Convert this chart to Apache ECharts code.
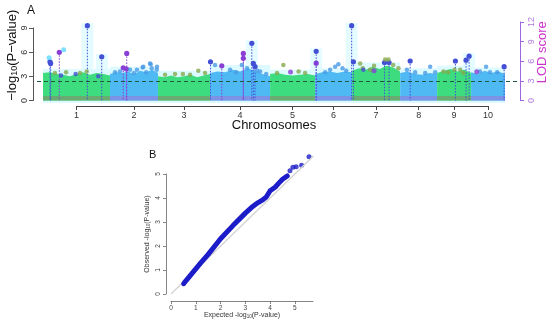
<!DOCTYPE html>
<html><head><meta charset="utf-8">
<script src="https://cdn.jsdelivr.net/npm/echarts@6/dist/echarts.min.js"></script>
<style>html,body{margin:0;padding:0;background:#fff}#c{width:550px;height:323px}</style>
</head><body><div id="c"></div><script>
// ---------- DATA ----------
const chromosomes = ['1','2','3','4','5','6','7','8','9','10'];
const chrLengthMb = [308,221,239,276,207,170,221,170,156,156];
const logPTicks = [0,3,6,9];
const lodTicks = [0,3,6,9,12];
const lodThreshold = 3;
// upper envelope of the dense marker cloud (-log10 P), sampled evenly along each chromosome
const cloudTop = [
  [3.4,3.5,3.3,3.2,3.0,3.3,3.5,3.2,3.4,3.3,3.1],
  [3.3,3.5,3.4,3.6,3.3,3.7,3.5,3.8,3.4],
  [3.0,2.9,3.1,2.9,3.0,3.2,2.9,3.1,3.3],
  [3.4,3.6,3.5,3.8,3.6,4.0,3.7,3.3,3.0],
  [3.3,3.4,3.2,3.1,3.2,3.3,3.1],
  [3.3,3.5,3.6,3.4,3.6,3.5],
  [3.7,4.0,3.8,4.2,3.9,4.3,4.1,3.6],
  [3.4,3.6,3.3,3.2,3.4,3.3],
  [3.4,3.7,3.9,3.6,3.8,3.4],
  [3.5,3.3,3.7,3.4,3.6,3.3]
];
// other markers above the cloud: [chromosome, position (Mb), -log10 P]
const otherSnps = [
  [1,55,3.4],[1,106,3.5],[1,170,3.4],[1,201,3.6],
  [2,23,3.5],[2,46,3.6],[2,92,3.8],[2,110,3.4],[2,124,3.8],[2,150,4.1],[2,153,4.2],[2,166,3.5],[2,184,4.6],[2,187,4.5],[2,192,4.0],[2,215,3.8],[2,216,4.2],
  [3,32,3.2],[3,78,3.3],[3,114,3.3],[3,147,3.2],[3,185,3.7],[3,216,3.4],
  [4,23,4.4],[4,92,3.8],[4,120,3.5],[4,146,4.4],[4,170,4.0],[4,217,3.7],[4,230,3.6],[4,258,3.3],
  [5,32,3.4],[5,61,4.4],[5,131,3.6],[5,161,3.4],
  [6,46,3.5],[6,69,3.8],[6,92,4.2],[6,107,4.5],[6,126,4.0],[6,143,3.7],
  [7,37,4.6],[7,49,4.0],[7,83,3.8],[7,101,4.3],[7,152,5.1],[7,167,5.1],[7,189,4.4],[7,213,4.0],
  [8,31,3.8],[8,69,3.5],[8,115,3.4],[8,138,4.2],[8,161,3.5],
  [9,29,3.6],[9,51,3.5],[9,80,3.8],[9,106,3.8],[9,120,3.4],
  [10,41,3.6],[10,69,4.2],[10,87,3.5],[10,120,3.5]
];
// significant markers drawn with a dotted drop line: [chromosome, position (Mb), -log10 P]
const peakSnps = [
  [1,32,4.8],[1,35,4.6],[1,204,9.28],[1,270,5.43],
  [4,2,4.8],[4,192,7.1],[4,199,4.6],[4,207,4.2],
  [6,5,6.1],[6,168,9.28],[7,6,4.8],[7,149,4.7],[7,170,4.7],
  [8,46,4.9],[9,84,4.9],[9,133,5.0],[9,147,5.5],[10,152,4.2]
];
// further highlighted markers without drop line
const highlightSnps = [[1,83,3.1],[1,150,3.3],[1,254,3.0],[7,52,3.8]];
const lightSnps = [[1,28,5.3],[1,95,6.3]];
// QTL (LOD score) with drop line: [chromosome, position (Mb), LOD]
const qtlPeaks = [[1,75,7.37],[2,77,7.2],[2,61,5.0],[2,76,4.8],[4,153,7.2],[4,153,6.45],[4,54,5.3],[6,5,5.7]];
const qtlPoints = [[5,94,4.35],[7,101,4.55],[10,26,4.4]];
// QQ plot: expected vs observed -log10 P
const qqExpected = [0.51,0.6,0.8,1.0,1.2,1.5,2.0,2.5,3.0,3.3,3.5,3.7,3.85,4.0,4.2,4.35,4.5,4.69];
const qqObserved = [0.43,0.55,0.8,1.05,1.3,1.65,2.3,2.85,3.37,3.65,3.8,3.92,4.05,4.3,4.45,4.62,4.78,4.92];
const qqTailExpected = [4.8,4.92,5.05,5.27,5.57];
const qqTailObserved = [5.14,5.28,5.3,5.36,5.72];
const qqTicks = [0,1,2,3,4,5];

// ---------- BUILD ----------
const chrStart = []; let acc = 0;
chrLengthMb.forEach(l => { chrStart.push(acc); acc += l; });
const totalMb = acc;
const chrCenter = chrLengthMb.map((l,i) => chrStart[i] + l/2);
const cum = (c, p) => chrStart[c-1] + p;

const PL = 43, PR = 505; // manhattan plot region (px)
const pxOf = v => PL + v / totalMb * (PR - PL);

const GREEN = '#3ddc7e', BLUE = '#4eb9f3';
const STRIP_G = '#6aab72', STRIP_B = '#7c92e4';
const OLIVE = '#86a94c', PBLUE = '#4a9be6', PEAK = '#4350d6', PURPLE = '#8a3fd4', LIGHT = '#5fd7ff';
const FONT = 'Liberation Sans';

function renderCloud(params, api) {
  const i = api.value(2);
  const start = api.value(0), end = api.value(1);
  const tops = cloudTop[i], n = tops.length;
  const pts = [api.coord([start, 0])];
  tops.forEach((t,k) => pts.push(api.coord([start + (end-start)*k/(n-1), t])));
  pts.push(api.coord([end, 0]));
  const even = i % 2 === 1;
  const b0 = api.coord([start, Math.max(...tops) + 0.4]);
  const b1 = api.coord([end, -0.31]);
  const s0 = api.coord([start, 0.55]), s1 = api.coord([end, 0]);
  return {type:'group', children:[
    {type:'rect', shape:{x:b0[0], y:b0[1], width:b1[0]-b0[0], height:b1[1]-b0[1]}, style:{fill:'#dcfaff'}},
    {type:'polygon', shape:{points:pts}, style:{fill: even ? BLUE : GREEN}},
    {type:'rect', shape:{x:s0[0], y:s0[1], width:s1[0]-s0[0], height:s1[1]-s0[1]}, style:{fill: even ? STRIP_B : STRIP_G}}
  ]};
}
function dropRenderer(color) {
  return function(params, api) {
    const top = api.coord([api.value(0), api.value(1)]);
    const bot = api.coord([api.value(0), 0]);
    return {type:'group', children:[
      {type:'line', shape:{x1:top[0], y1:top[1], x2:bot[0], y2:bot[1]}, style:{stroke:color, lineWidth:1, lineDash:[1.5,1.5]}},
      {type:'circle', shape:{cx:top[0], cy:top[1], r:2.6}, style:{fill:color}}
    ]};
  };
}
function haloRender(params, api) {
  const top = api.coord([api.value(0), api.value(1) + 0.35]);
  const bot = api.coord([api.value(0), -0.31]);
  return {type:'rect', shape:{x:top[0]-6, y:top[1], width:12, height:bot[1]-top[1]}, style:{fill:'rgba(210,249,255,0.6)'}};
}

const axisLabelStyle = {fontFamily: FONT, fontSize: 9, color: '#333'};
const c1 = chrCenter[0], c10 = chrCenter[chrCenter.length-1];
const hiddenX = g => ({gridIndex:g, type:'value', min:0, max:1, show:false, axisLine:{onZero:false}});
const G = o => Object.assign({outerBoundsMode:'none', containLabel:false}, o);

const option = {
  animation: false,
  backgroundColor: '#fff',
  textStyle: {fontFamily: FONT},
  title: [
    {text:'A', left: 22, top: 0, textStyle:{fontSize:12, fontWeight:'normal', color:'#111', fontFamily:FONT}},
    {text:'B', left: 144, top: 144, textStyle:{fontSize:11, fontWeight:'normal', color:'#111', fontFamily:FONT}}
  ],
  grid: [
    G({left: PL, right: 550-PR, top: 22, bottom: 220}),           // 0 data
    G({left: 33, right: 550-PR, top: 28, bottom: 222.5}),         // 1 left axis
    G({left: PL, right: 30, top: 22, bottom: 222.5}),             // 2 LOD axis
    G({left: pxOf(c1), right: 550 - pxOf(c10), top: 100, bottom: 217}), // 3 chromosome axis
    G({left: 171, width: 142, top: 150, height: 144}),            // 4 QQ data
    G({left: 166, width: 147, top: 174, height: 120}),            // 5 QQ y axis
    G({left: 171, width: 142, top: 150, bottom: 22}),             // 6 QQ x axis
    G({left: 37, right: 33, top: 22, bottom: 222.5})              // 7 threshold
  ],
  xAxis: [
    {gridIndex:0, type:'value', min:0, max:totalMb, axisLine:{show:false, onZero:false}, axisTick:{show:false}, axisLabel:{show:false}, splitLine:{show:false},
     name:'Chromosomes', nameLocation:'middle', nameGap:16, nameMoveOverlap:false, nameTextStyle:{fontFamily:FONT, fontSize:13, color:'#111'}},
    hiddenX(1),
    hiddenX(2),
    {gridIndex:3, type:'value', min:c1, max:c10, splitLine:{show:false},
     axisLine:{onZero:false, lineStyle:{color:'#444', width:1}},
     axisTick:{length:4, customValues: chrCenter, lineStyle:{color:'#444'}},
     axisLabel:{customValues: chrCenter, margin:5, ...axisLabelStyle,
       formatter: v => chromosomes[chrCenter.findIndex(c => Math.abs(c - v) < 1e-6)] || ''}},
    {gridIndex:4, type:'value', min:0, max:5.73, show:false, axisLine:{onZero:false}},
    hiddenX(5),
    {gridIndex:6, type:'value', min:0, max:5.73, splitLine:{show:false},
     axisLine:{onZero:false, lineStyle:{color:'#666', width:0.8}},
     axisTick:{length:3, customValues: qqTicks, lineStyle:{color:'#666', width:0.8}},
     axisLabel:{customValues: qqTicks, margin:4, fontFamily:FONT, fontSize:6.5, color:'#444'},
     name:'Expected -log{s|10}(P-value)', nameLocation:'middle', nameGap:11, nameMoveOverlap:false,
     nameTextStyle:{fontFamily:FONT, fontSize:7, color:'#333', rich:{s:{fontSize:4.5, verticalAlign:'bottom'}}}},
    hiddenX(7)
  ],
  yAxis: [
    {gridIndex:0, type:'value', min:-0.31, max:9.74, show:false, axisLine:{onZero:false}},
    {gridIndex:0, type:'value', min:-0.38, max:12, show:false, axisLine:{onZero:false}},
    {gridIndex:1, type:'value', position:'left', min:0, max:9, interval:3, splitLine:{show:false},
     axisLine:{show:true, onZero:false, lineStyle:{color:'#555', width:1}},
     axisTick:{show:true, length:4, lineStyle:{color:'#555'}},
     axisLabel:{rotate:90, margin:4, ...axisLabelStyle},
     name:'−log{s|10}(P−value)', nameLocation:'middle', nameRotate:90, nameGap:13.5, nameMoveOverlap:false,
     nameTextStyle:{fontFamily:FONT, fontSize:13, lineHeight:15, color:'#111', padding:[0,0,0,18],
       rich:{s:{fontSize:9, lineHeight:15, verticalAlign:'bottom'}}}},
    {gridIndex:2, type:'value', position:'right', min:0, max:12, interval:3, splitLine:{show:false},
     axisLine:{show:true, onZero:false, lineStyle:{color:'#a066dd', width:1}},
     axisTick:{show:true, length:4, lineStyle:{color:'#a066dd'}},
     axisLabel:{rotate:90, margin:7, fontFamily:FONT, fontSize:9, color:'#b07ae0'},
     name:'LOD score', nameLocation:'middle', nameRotate:90, nameGap:14.5, nameMoveOverlap:false,
     nameTextStyle:{fontFamily:FONT, fontSize:13, lineHeight:15, color:'#cc33cc', padding:[0,0,0,18]}},
    {gridIndex:3, type:'value', show:false, axisLine:{onZero:false}},
    {gridIndex:4, type:'value', min:0, max:6, show:false, axisLine:{onZero:false}},
    {gridIndex:5, type:'value', position:'left', min:0, max:5, interval:1, splitLine:{show:false},
     axisLine:{show:true, onZero:false, lineStyle:{color:'#666', width:0.8}},
     axisTick:{show:true, length:3, lineStyle:{color:'#666', width:0.8}},
     axisLabel:{rotate:90, margin:4, fontFamily:FONT, fontSize:6.5, color:'#444'},
     name:'Observed -log{s|10}(P-value)', nameLocation:'middle', nameRotate:90, nameGap:15, nameMoveOverlap:false,
     nameTextStyle:{fontFamily:FONT, fontSize:7, color:'#333', rich:{s:{fontSize:4.5, verticalAlign:'bottom'}}}},
    {gridIndex:6, type:'value', show:false, axisLine:{onZero:false}},
    {gridIndex:7, type:'value', min:0, max:12, show:false, axisLine:{onZero:false}}
  ],
  series: [
    {type:'custom', xAxisIndex:0, yAxisIndex:0, renderItem: haloRender, silent:true,
     data: peakSnps.filter(d => d[2] > 5).map(d => [cum(d[0], d[1]), d[2]])},
    {type:'custom', xAxisIndex:0, yAxisIndex:0, renderItem: renderCloud, silent:true,
     data: chromosomes.map((c,i) => [chrStart[i], chrStart[i] + chrLengthMb[i], i])},
    {type:'line', xAxisIndex:7, yAxisIndex:8, data:[], silent:true,
     markLine:{symbol:'none', silent:true, label:{show:false},
       lineStyle:{color:'#1f5a3c', type:[4,3], width:1.1}, data:[{yAxis: lodThreshold}]}},
    {type:'scatter', xAxisIndex:0, yAxisIndex:0, symbolSize:4.5,
     itemStyle:{color: p => (p.data[2] % 2 === 1 ? OLIVE : PBLUE)},
     data: otherSnps.map(d => [cum(d[0], d[1]), d[2], d[0]])},
    {type:'scatter', xAxisIndex:0, yAxisIndex:0, symbolSize:4.5, itemStyle:{color: PEAK},
     data: highlightSnps.map(d => [cum(d[0], d[1]), d[2]])},
    {type:'scatter', xAxisIndex:0, yAxisIndex:0, symbolSize:5, itemStyle:{color: LIGHT},
     data: lightSnps.map(d => [cum(d[0], d[1]), d[2]])},
    {type:'custom', xAxisIndex:0, yAxisIndex:1, renderItem: dropRenderer(PURPLE),
     data: qtlPeaks.map(d => [cum(d[0], d[1]), d[2]])},
    {type:'scatter', xAxisIndex:0, yAxisIndex:1, symbolSize:5, itemStyle:{color: PURPLE},
     data: qtlPoints.map(d => [cum(d[0], d[1]), d[2]])},
    {type:'custom', xAxisIndex:0, yAxisIndex:0, renderItem: dropRenderer(PEAK),
     data: peakSnps.map(d => [cum(d[0], d[1]), d[2]])},
    // QQ plot
    {type:'line', xAxisIndex:4, yAxisIndex:5, symbol:'none', silent:true,
     lineStyle:{color:'#d6d6d6', width:1.5}, data:[[0,0],[5.75,5.75]]},
    {type:'line', xAxisIndex:4, yAxisIndex:5, symbol:'none', silent:true,
     lineStyle:{color:'#1c1cc8', width:5, cap:'round', join:'round'},
     data: qqExpected.map((e,i) => [e, qqObserved[i]])},
    {type:'scatter', xAxisIndex:4, yAxisIndex:5, symbolSize:5, itemStyle:{color:'#1c1cc8'},
     data: qqTailExpected.map((e,i) => [e, qqTailObserved[i]])}
  ]
};
const chart = echarts.init(document.getElementById('c'), null, {renderer:'canvas'});
chart.setOption(option);
</script></body></html>
